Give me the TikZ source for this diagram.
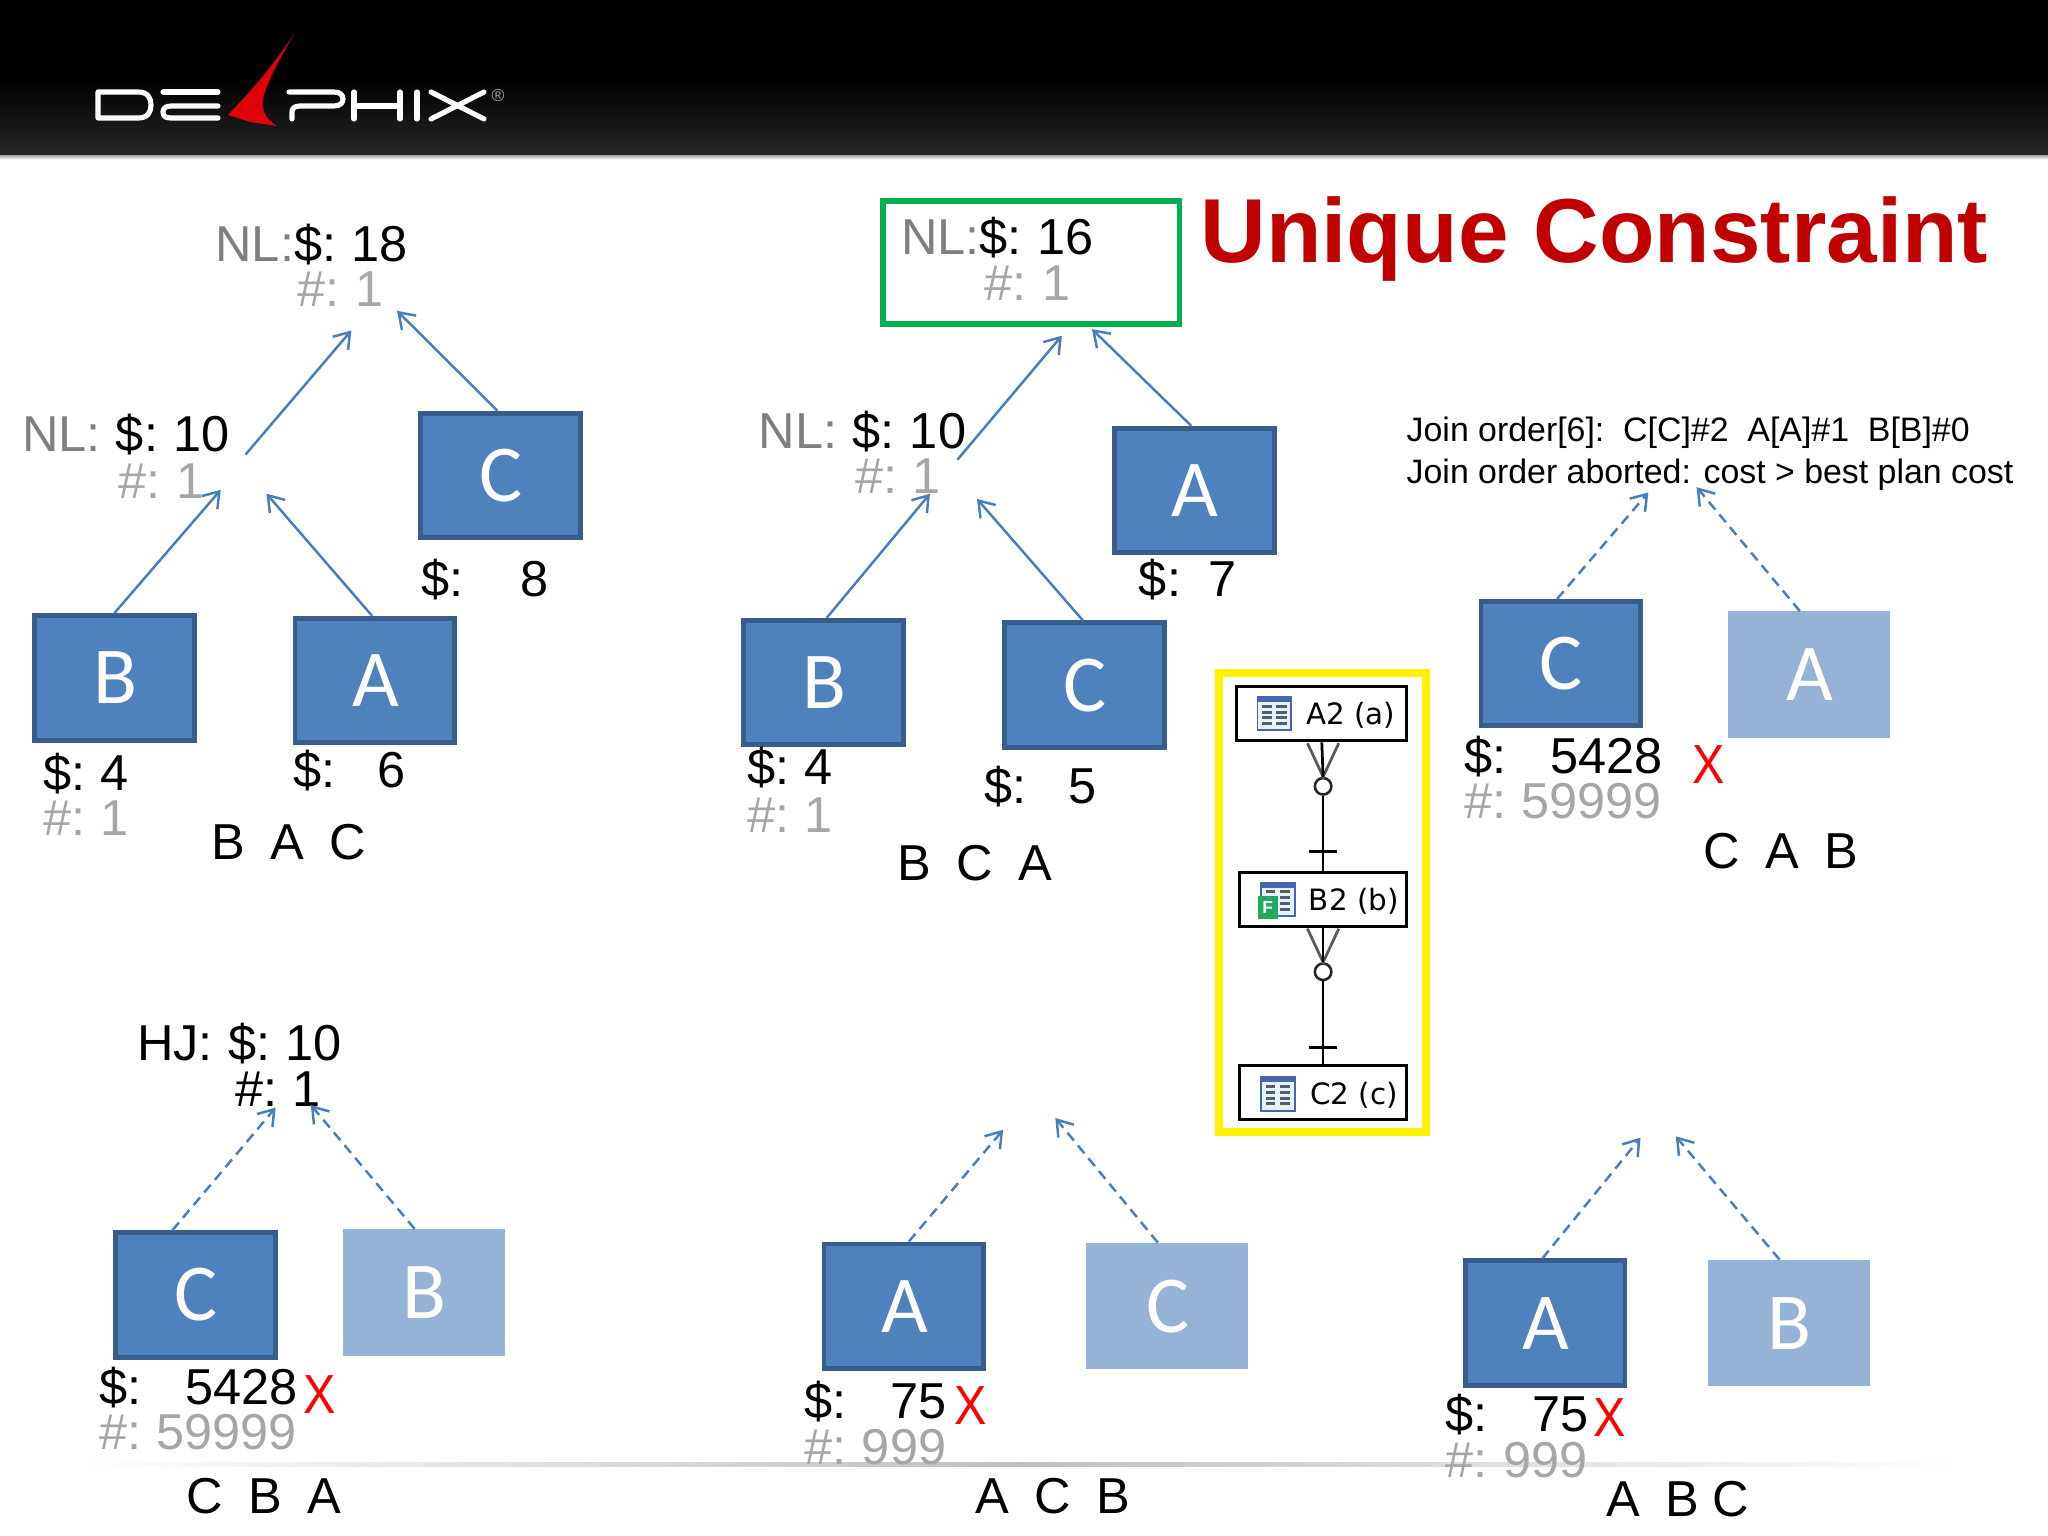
\documentclass[tikz,border=0pt]{standalone}
\usepackage{fontspec}
\usepackage{graphicx}
\setmainfont{Liberation Sans}
\newfontfamily\boxfont{Carlito}
\newfontfamily\erfont{DejaVu Sans}
\usetikzlibrary{arrows.meta}
\definecolor{boxblue}{HTML}{4F81BD}
\definecolor{boxedge}{HTML}{385D8A}
\definecolor{boxlight}{HTML}{95B3D7}
\definecolor{arrowblue}{HTML}{4A7EBB}
\definecolor{nlgray}{HTML}{7F7F7F}
\definecolor{hashgray}{HTML}{A6A6A6}
\definecolor{titlered}{HTML}{C00000}
\definecolor{framegreen}{HTML}{00B050}
\definecolor{logored}{HTML}{E00008}
\newcommand{\tightsp}{\spaceskip=.21em\relax}
\newcommand{\ordersp}{\spaceskip=.252em\relax}
\newcommand{\boxlet}[1]{\hspace{1.5pt}\raisebox{-3pt}{#1}}
\newcommand{\redmark}{\scalebox{0.88}[1]{X}}
\newcommand{\opgap}{\hspace{16.5pt}}
\tikzset{
  box/.style={draw=boxedge,fill=boxblue,line width=5.2pt,minimum width=174pt,minimum height=135.6pt,inner sep=0pt,text=white,font=\boxfont\fontsize{88}{88}\selectfont},
  lightbox/.style={fill=boxlight,minimum width=176.4pt,minimum height=138pt,inner sep=0pt,text=white,font=\boxfont\fontsize{88}{88}\selectfont},
  lab/.style={anchor=base west,inner sep=0pt,outer sep=0pt,font=\fontsize{55}{60}\selectfont\tightsp},
  orderlab/.style={anchor=base west,inner sep=0pt,outer sep=0pt,font=\fontsize{55}{60}\selectfont\ordersp},
  hash/.style={lab,text=hashgray},
  redx/.style={lab,text=red,font=\fontsize{60}{60}\selectfont},
  note/.style={anchor=base west,inner sep=0pt,outer sep=0pt,font=\fontsize{36.9}{40}\selectfont},
  solidarrow/.style={draw=arrowblue,line width=2.7pt,-{Straight Barb[length=16pt,width=22pt]}},
  dasharrow/.style={solidarrow,dash pattern=on 11pt off 7pt},
  ertable/.style={draw=black,line width=3.1pt,fill=white,minimum height=59pt,inner sep=0pt},
  erlabel/.style={anchor=base west,inner sep=0pt,font=\erfont\fontsize{32}{32}\selectfont},
  erline/.style={draw=black,line width=3pt},
  ercrow/.style={draw=black!65,line width=3pt},
  ercirc/.style={circle,draw=black!85,line width=2.8pt,fill=white,minimum size=18pt,inner sep=0pt},
  logostroke/.style={draw=white,line width=5.6pt,line cap=round,line join=round},
}
\newcommand{\tblicon}[2]{%
  \begin{scope}[shift={(#1,#2)}]
    \fill[fill={rgb,255:red,71;green,102;blue,174}] (0,0) rectangle (27,27);
    \fill[fill={rgb,255:red,232;green,242;blue,251}] (1.5,4.5) rectangle (25.5,25.5);
    \foreach \yy in {6.5,11,15.5,20}{
      \fill[fill={rgb,255:red,80;green,95;blue,110}] (4,\yy) rectangle (11.5,\yy+2.3);
      \fill[fill={rgb,255:red,80;green,95;blue,110}] (15,\yy) rectangle (23,\yy+2.3);
    }
  \end{scope}}
\begin{document}
\begin{tikzpicture}[x=0.05cm,y=-0.05cm]
\useasboundingbox (0,0) rectangle (1568,1176);
% header
\fill[black] (0,0) rectangle (1568,62);
\shade[top color=black,bottom color={rgb,255:red,40;green,40;blue,42}] (0,61.5) rectangle (1568,119);
\shade[top color=gray!70,bottom color=white] (0,119) rectangle (1568,122);
% logo (drawn in full-size pixel units)
\begin{scope}[x=0.03828cm,y=-0.03828cm]
  \draw[logostroke] (98,92) -- (138,92) .. controls (148,92) and (151,98) .. (151,105) .. controls (151,112) and (148,118) .. (138,118) -- (98,118) -- cycle;
  \draw[logostroke] (163,92) -- (218,92);
  \draw[logostroke] (218,106) -- (171,106) .. controls (165,106) and (163,109) .. (163,112) .. controls (163,116) and (165,118) .. (171,118) -- (218,118);
  \fill[logored] (294,34) .. controls (270,70) and (250,92) .. (228,115) -- (250,122) -- (277,126) .. controls (264,118) and (260,108) .. (264,95) .. controls (270,75) and (285,50) .. (294,34) -- cycle;
  \draw[logostroke] (292,119) -- (292,112) .. controls (292,108) and (295,106) .. (300,106) -- (334,106) .. controls (340,106) and (343,103) .. (343,99) .. controls (343,95) and (340,92) .. (334,92) -- (289,92);
  \draw[logostroke] (354,92) -- (354,119) (400,92) -- (400,119) (354,106) -- (400,106);
  \draw[logostroke] (417,92) -- (417,119);
  \draw[logostroke] (431,92) -- (484,119) (484,92) -- (431,119);
  \node[inner sep=0pt,text=white!65!black,font=\fontsize{19}{19}\selectfont] (logoreg) at (498,95) {®};
\end{scope}
% title
\node[anchor=base west,inner sep=0pt,text=titlered,font=\bfseries\fontsize{99}{100}\selectfont] (title) at (919,201) {Unique Constraint};
% footer rule
\shade[left color=white,right color=white,middle color=black!25] (60,1119.5) rectangle (1500,1122.5);

% ---- tree 1
\node[lab] (t1root) at (165,200) {\textcolor{nlgray}{NL:}\$: 18};
\node[hash] (t1rooth) at (228,235) {\#: 1};
\node[lab] (t1mid) at (17,346) {\textcolor{nlgray}{NL:}\opgap\$: 10};
\node[hash] (t1midh) at (91,382) {\#: 1};
\node[box] (t1c) at (383,364) {\boxlet{C}};
\node[box] (t1b) at (87.5,519) {\boxlet{B}};
\node[box] (t1a) at (287,521) {\boxlet{A}};
\node[lab] (t1cc) at (323,457) {\$:\hspace{62pt}8};
\node[lab] (t1bc) at (33,605) {\$: 4};
\node[hash] (t1bh) at (33,640) {\#: 1};
\node[lab] (t1ac) at (225,603) {\$:\hspace{45.5pt}6};
\node[orderlab] (t1o) at (162,658) {B~~A~~C};
\coordinate (t1p1) at (169,375);
\coordinate (t1p2) at (204,378);
\coordinate (t1m) at (188,348);
\coordinate (t1r1) at (269,253);
\coordinate (t1r2) at (304,238);
\draw[solidarrow] (t1b.north) -- (t1p1);
\draw[solidarrow] ([xshift=-3pt]t1a.north) -- (t1p2);
\draw[solidarrow] (t1m) -- (t1r1);
\draw[solidarrow] ([xshift=-3pt]t1c.north) -- (t1r2);

% ---- tree 2
\node[draw=framegreen,line width=5.6pt,minimum width=323pt,minimum height=134pt,inner sep=0pt] (t2frame) at (789.5,201) {};
\node[lab] (t2root) at (690,195) {\textcolor{nlgray}{NL:}\$: 16};
\node[hash] (t2rooth) at (754,230) {\#: 1};
\node[lab] (t2mid) at (581,343) {\textcolor{nlgray}{NL:}\opgap\$: 10};
\node[hash] (t2midh) at (655,378) {\#: 1};
\node[box] (t2a) at (914.5,375.5) {\boxlet{A}};
\node[box] (t2b) at (630.5,522.5) {\boxlet{B}};
\node[box] (t2c) at (830.5,524.5) {\boxlet{C}};
\node[lab] (t2ac) at (872,457) {\$:\hspace{30pt}7};
\node[lab] (t2bc) at (572,601) {\$: 4};
\node[hash] (t2bh) at (572,637) {\#: 1};
\node[lab] (t2cc) at (754,615) {\$:\hspace{45.5pt}5};
\node[orderlab] (t2o) at (687,674) {B~~C~~A};
\coordinate (t2p1) at (712,378);
\coordinate (t2p2) at (748,382);
\coordinate (t2m) at (733,352);
\coordinate (t2r1) at (813,257);
\coordinate (t2r2) at (836,252);
\draw[solidarrow] ([xshift=3.5pt]t2b.north) -- (t2p1);
\draw[solidarrow] ([xshift=-2pt]t2c.north) -- (t2p2);
\draw[solidarrow] (t2m) -- (t2r1);
\draw[solidarrow] ([xshift=-3.5pt]t2a.north) -- (t2r2);

% ---- tree 3
\node[note] (t3n1) at (1077,338) {Join order[6]:~~C[C]\#2~~A[A]\#1~~B[B]\#0};
\node[note] (t3n2) at (1077,370) {Join order aborted: cost > best plan cost};
\node[box] (t3c) at (1195,508) {\boxlet{C}};
\node[lightbox] (t3a) at (1385,516.5) {\boxlet{A}};
\node[lab] (t3cc) at (1121,592) {\$:\hspace{48pt}5428};
\node[hash] (t3ch) at (1121,627) {\#: 59999};
\node[redx] (t3x) at (1296,600) {\redmark};
\node[orderlab] (t3o) at (1304,665) {C~~A~~B};
\coordinate (t3p1) at (1262,377);
\coordinate (t3p2) at (1299,373);
\draw[dasharrow] ([xshift=-4pt]t3c.north) -- (t3p1);
\draw[dasharrow] ([xshift=-10pt]t3a.north) -- (t3p2);

% ---- tree 4
\node[lab] (t4root) at (105,812) {HJ:\opgap\$: 10};
\node[lab] (t4rooth) at (180,847) {\#: 1};
\node[box] (t4c) at (149.5,991.5) {\boxlet{C}};
\node[lightbox] (t4b) at (324.5,989.5) {\boxlet{B}};
\node[lab] (t4cc) at (76,1075) {\$:\hspace{48pt}5428};
\node[hash] (t4ch) at (76,1110) {\#: 59999};
\node[redx] (t4x) at (232,1082) {\redmark};
\node[orderlab] (t4o) at (143,1159) {C~~B~~A};
\coordinate (t4p1) at (211,848);
\coordinate (t4p2) at (238,846);
\draw[dasharrow] ([xshift=-25pt]t4c.north) -- (t4p1);
\draw[dasharrow] ([xshift=-10pt]t4b.north) -- (t4p2);

% ---- tree 5
\node[box] (t5a) at (692,1000) {\boxlet{A}};
\node[lightbox] (t5c) at (893.5,1000) {\boxlet{C}};
\node[lab] (t5ac) at (616,1086) {\$:\hspace{48pt}75};
\node[hash] (t5ah) at (616,1121) {\#: 999};
\node[redx] (t5x) at (731,1091) {\redmark};
\node[orderlab] (t5o) at (747,1159) {A~~C~~B};
\coordinate (t5p1) at (768,865);
\coordinate (t5p2) at (808,856);
\draw[dasharrow] ([xshift=5.5pt]t5a.north) -- (t5p1);
\draw[dasharrow] ([xshift=-10pt]t5c.north) -- (t5p2);

% ---- tree 6
\node[box] (t6a) at (1183,1013) {\boxlet{A}};
\node[lightbox] (t6b) at (1369.5,1013) {\boxlet{B}};
\node[lab] (t6ac) at (1107,1096) {\$:\hspace{48pt}75};
\node[hash] (t6ah) at (1107,1131) {\#: 999};
\node[redx] (t6x) at (1220,1100) {\redmark};
\node[orderlab] (t6o) at (1230,1161) {A~~B~C};
\coordinate (t6p1) at (1256,871);
\coordinate (t6p2) at (1283,870);
\draw[dasharrow] ([xshift=-3pt]t6a.north) -- (t6p1);
\draw[dasharrow] ([xshift=-10pt]t6b.north) -- (t6p2);

% ---- ER panel
\node[draw=yellow,line width=8.5pt,minimum width=226pt,minimum height=500pt,inner sep=0pt] (erframe) at (1012.5,691) {};
\node[ertable,minimum width=185pt] (era) at (1012,546.5) {};
\node[ertable,minimum width=182pt] (erb) at (1013,688.5) {};
\node[ertable,minimum width=182pt] (erc) at (1013,836.5) {};
\tblicon{962}{533}
\tblicon{965}{675}
\tblicon{965}{824}
\node[fill={rgb,255:red,34;green,168;blue,96},text=white,inner sep=0pt,minimum width=22pt,minimum height=25pt,font=\bfseries\fontsize{19}{19}\selectfont] (erbf) at (970.5,695) {F};
\node[erlabel] (eral) at (1000,555) {A2 (a)};
\node[erlabel] (erbl) at (1002,697) {B2 (b)};
\node[erlabel] (ercl) at (1003,846) {C2 (c)};
\node[ercirc] (erc1) at (1013,602) {};
\node[ercirc] (erc2) at (1013,744) {};
\coordinate (era1) at (1001,569);
\coordinate (era2) at (1025,569);
\coordinate (erb1) at (1001,711);
\coordinate (erb2) at (1025,711);
\coordinate (erbar1l) at (1002,652);
\coordinate (erbar1r) at (1024,652);
\coordinate (erbar2l) at (1002,802);
\coordinate (erbar2r) at (1024,802);
\draw[ercrow] (era1) -- (erc1.north) -- (era2);
\draw[ercrow] (erb1) -- (erc2.north) -- (erb2);
\draw[erline] (era.south) -- (erc1.north);
\draw[erline] (erc1.south) -- (erb.north);
\draw[erline] (erb.south) -- (erc2.north);
\draw[erline] (erc2.south) -- (erc.north);
\draw[erline] (erbar1l) -- (erbar1r);
\draw[erline] (erbar2l) -- (erbar2r);
\end{tikzpicture}
\end{document}
